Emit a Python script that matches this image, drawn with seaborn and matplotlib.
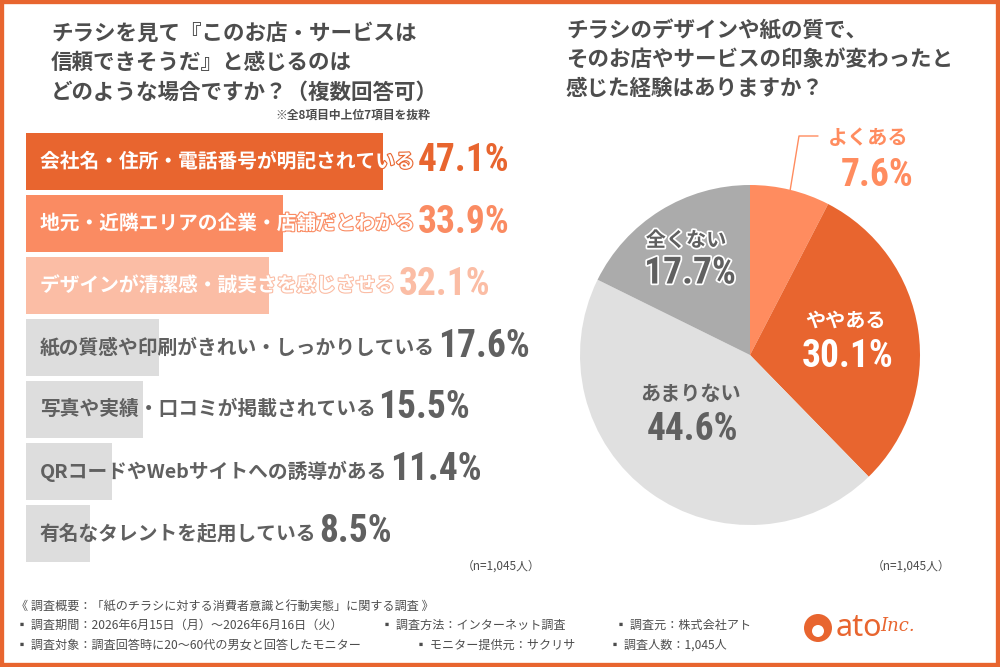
import matplotlib
matplotlib.use('Agg')
import matplotlib.pyplot as plt
import seaborn as sns
import pandas as pd
import numpy as np
from matplotlib import font_manager
from matplotlib.patches import Rectangle, Circle
import matplotlib.patheffects as pe

# ---------------- data ----------------
bar_items = [
    '会社名・住所・電話番号が明記されている',
    '地元・近隣エリアの企業・店舗だとわかる',
    'デザインが清潔感・誠実さを感じさせる',
    '紙の質感や印刷がきれい・しっかりしている',
    '写真や実績・口コミが掲載されている',
    'QRコードやWebサイトへの誘導がある',
    '有名なタレントを起用している',
]
bar_values = [47.1, 33.9, 32.1, 17.6, 15.5, 11.4, 8.5]

pie_labels = ['よくある', 'ややある', 'あまりない', '全くない']
pie_values = [7.6, 30.1, 44.6, 17.7]

title_left = ['チラシを見て『このお店・サービスは', '信頼できそうだ』と感じるのは',
              'どのような場合ですか？（複数回答可）']
title_right = ['チラシのデザインや紙の質で、', 'そのお店やサービスの印象が変わったと',
               '感じた経験はありますか？']
note_text = '※全8項目中上位7項目を抜粋'
n_text = '（n=1,045人）'
footer_title = '《 調査概要：「紙のチラシに対する消費者意識と行動実態」に関する調査 》'
footer_row1 = ['▪ 調査期間：2026年6月15日（月）～2026年6月16日（火）',
               '▪ 調査方法：インターネット調査', '▪ 調査元：株式会社アト']
footer_row2 = ['▪ 調査対象：調査回答時に20～60代の男女と回答したモニター',
               '▪ モニター提供元：サクリサ', '▪ 調査人数：1,045人']

# ---------------- style ----------------
ORANGE = '#E8652F'
SALMON = '#FA8B62'
PEACH = '#FBBDA5'
LGREY = '#DDDDDD'
DGREY = '#4D4D4D'
NGREY = '#606060'
bar_colors = [ORANGE, SALMON, PEACH, LGREY, LGREY, LGREY, LGREY]
pct_colors = [ORANGE, SALMON, PEACH, NGREY, NGREY, NGREY, NGREY]
pie_colors = ['#FF8C5F', ORANGE, '#E0E0E0', '#ABABAB']

sns.set_theme(style='white')
avail = {f.name for f in font_manager.fontManager.ttflist}
JP = 'Noto Sans CJK JP'
NUM = next((c for c in ['Liberation Sans Narrow', 'DejaVu Sans Condensed',
                        'Roboto Condensed', 'Roboto', 'DejaVu Sans'] if c in avail), 'DejaVu Sans')
plt.rcParams['font.family'] = [JP, 'DejaVu Sans']
NUMF = [NUM, JP]

W, H = 1000, 667
fig = plt.figure(figsize=(10, 6.67), dpi=100)
fig.patch.set_facecolor('white')


def T(x, y, s, **kw):
    return fig.text(x / W, 1 - y / H, s, **kw)


# ---------------- titles ----------------
for i, line in enumerate(title_left):
    T(51, 33 + i * 29.5, line, fontsize=15.5, fontweight='bold', color=DGREY, va='center')
T(430, 115, note_text, fontsize=8.5, fontweight='bold', color=DGREY, va='center', ha='right')
for i, line in enumerate(title_right):
    T(566, 31 + i * 28.5, line, fontsize=15.5, fontweight='bold', color=DGREY, va='center')

# ---------------- bar chart ----------------
PX_PER = 7.58
df = pd.DataFrame({'item': bar_items, 'value': bar_values})
ax = fig.add_axes([26 / W, (H - 564) / H, 534 / W, 433 / H])
sns.barplot(data=df, y='item', x='value', hue='item', palette=bar_colors, orient='h',
            width=0.92, saturation=1, legend=False, ax=ax, linewidth=0)
ax.set_xlim(0, 534 / PX_PER)
ax.set_ylim(6.5, -0.5)
ax.axis('off')

x0 = (40 - 26) / PX_PER
for i, (item, val) in enumerate(zip(bar_items, bar_values)):
    if i < 3:
        t = ax.text(x0, i, item, fontsize=14.2, fontweight='bold', color='white', va='center',
                    path_effects=[pe.withStroke(linewidth=1.6, foreground=bar_colors[i])])
    else:
        t = ax.text(x0, i, item, fontsize=14.2, fontweight='bold', color=NGREY, va='center')
    ax.annotate(f'{val:.1f}%', xy=(1, 0.5), xycoords=t, xytext=(2, 1), textcoords='offset points',
                ha='left', va='center', fontsize=27, fontweight='bold', color=pct_colors[i],
                family=NUMF)

T(540, 566, n_text, fontsize=8.5, color=DGREY, va='center', ha='right')

# ---------------- pie chart ----------------
CX, CY, R = 750, 355, 170
pax = fig.add_axes([(CX - R) / W, (H - CY - R) / H, 2 * R / W, 2 * R / H])
pax.pie(pie_values, colors=pie_colors, startangle=90, counterclock=False, radius=1,
        wedgeprops=dict(linewidth=0))
pax.set_xlim(-1, 1)
pax.set_ylim(-1, 1)
pax.set_aspect('equal')
pax.axis('off')

# leader line for the small slice
mid = np.deg2rad(90 - pie_values[0] / sum(pie_values) * 360 / 2)
sx, sy = CX + R * np.cos(mid), CY - R * np.sin(mid)
fig.add_artist(plt.Line2D([sx / W, 799 / W, 818 / W], [1 - sy / H, 1 - 136 / H, 1 - 136 / H],
                          color='#FF8C5F', lw=1.0, transform=fig.transFigure))

T(868, 137, pie_labels[0], fontsize=14.5, fontweight='bold', color='#FF8C5F', ha='center', va='center')
T(877, 175, f'{pie_values[0]:.1f}%', fontsize=27, fontweight='bold', color='#FF8C5F',
  ha='center', va='center', family=NUMF)
T(846, 320, pie_labels[1], fontsize=14.5, fontweight='bold', color='white', ha='center', va='center')
T(848, 357, f'{pie_values[1]:.1f}%', fontsize=27, fontweight='bold', color='white',
  ha='center', va='center', family=NUMF)
T(690, 393, pie_labels[2], fontsize=14.5, fontweight='bold', color=NGREY, ha='center', va='center')
T(693, 430, f'{pie_values[2]:.1f}%', fontsize=27, fontweight='bold', color=NGREY,
  ha='center', va='center', family=NUMF)
stroke = [pe.withStroke(linewidth=2.5, foreground='white')]
T(686, 240, pie_labels[3], fontsize=14.5, fontweight='bold', color=NGREY, ha='center', va='center',
  path_effects=stroke)
T(690, 273, f'{pie_values[3]:.1f}%', fontsize=27, fontweight='bold', color=NGREY,
  ha='center', va='center', family=NUMF, path_effects=stroke)

T(950, 566, n_text, fontsize=8.5, color=DGREY, va='center', ha='right')

# ---------------- footer ----------------
T(16, 606, footer_title, fontsize=8.7, color=DGREY, va='center')
for x, s in zip([16, 381, 615], footer_row1):
    T(x, 625, s, fontsize=8.7, color=DGREY, va='center')
for x, s in zip([16, 415, 609], footer_row2):
    T(x, 645, s, fontsize=8.7, color=DGREY, va='center')

# logo
fig.add_artist(Circle((8.18, (H - 628) / 100), 0.14, transform=fig.dpi_scale_trans,
                      facecolor=ORANGE, edgecolor='none'))
fig.add_artist(Circle((8.18, (H - 631) / 100), 0.06, transform=fig.dpi_scale_trans,
                      facecolor='white', edgecolor='none'))
T(836, 628, 'ato', fontsize=22, fontweight='bold', color=ORANGE, va='center', family=['Noto Sans', JP])
T(880, 626, 'Inc.', fontsize=13, fontstyle='italic', color=ORANGE, va='center', family=['DejaVu Serif'])

# frame
fig.add_artist(Rectangle((0, 0), 1, 1, transform=fig.transFigure, fill=False,
                         edgecolor=ORANGE, lw=6))

fig.savefig('out.png', dpi=100, facecolor='white')
